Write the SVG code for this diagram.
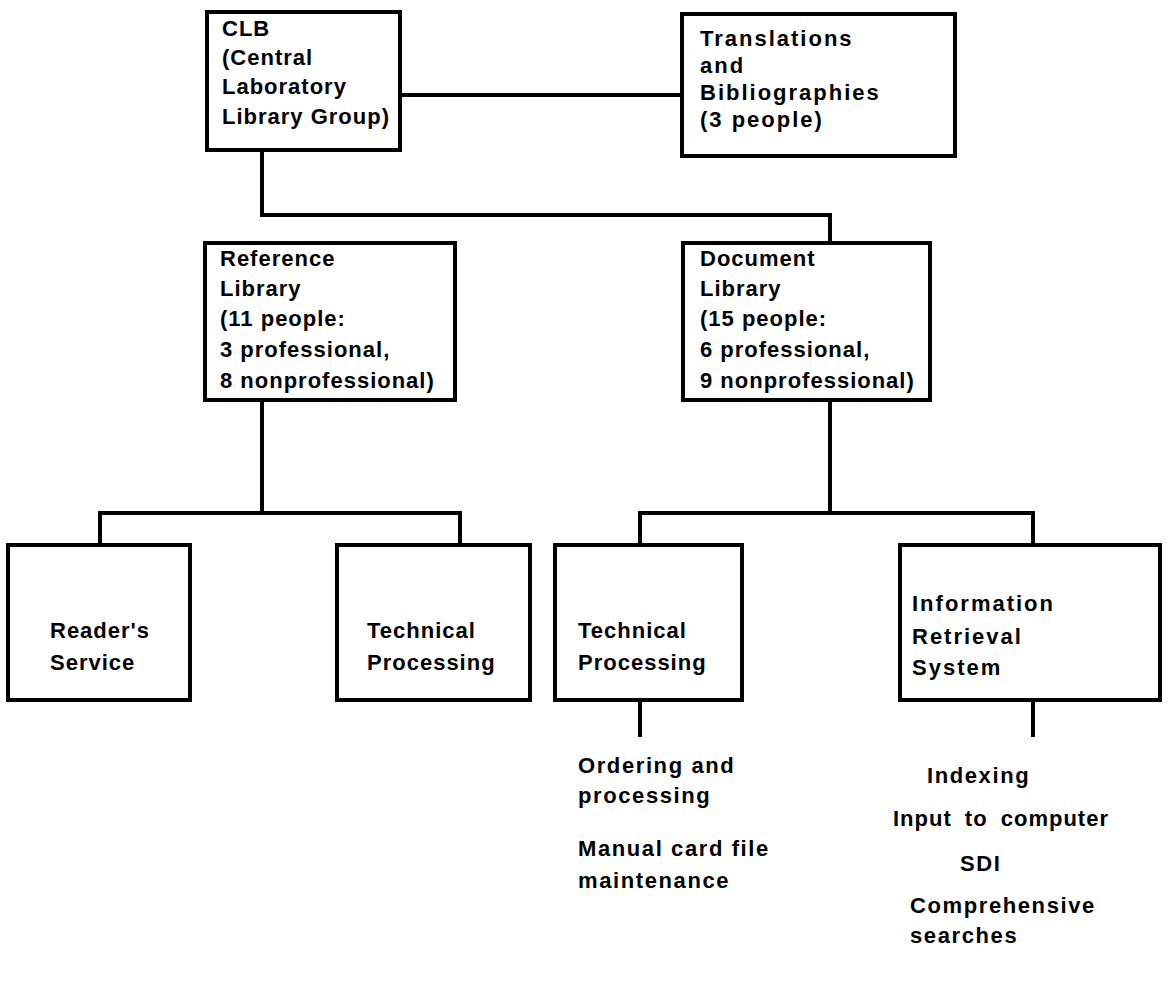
<svg xmlns="http://www.w3.org/2000/svg" width="1174" height="987" viewBox="0 0 1174 987">
<style>
.box{fill:none;stroke:#000;stroke-width:4;stroke-linejoin:miter}
.ln{fill:none;stroke:#000;stroke-width:4;stroke-linecap:square}
text{font-family:"Liberation Sans","DejaVu Sans",sans-serif;font-size:22px;font-weight:bold;fill:#000;letter-spacing:1px}
.wide{letter-spacing:2px}
.task{letter-spacing:1.6px}
</style>
<rect width="1174" height="987" fill="#fff"/>
<g id="connectors">
<path class="ln" d="M400 95 H682"/>
<path class="ln" d="M262 150 V215 H830 V243"/>
<path class="ln" d="M262 400 V513"/>
<path class="ln" d="M100 545 V513 H460 V545"/>
<path class="ln" d="M830 400 V513"/>
<path class="ln" d="M640 545 V513 H1033 V545"/>
<path class="ln" d="M640 700 V735"/>
<path class="ln" d="M1033 700 V735"/>
</g>
<g id="clb"><rect class="box" x="207" y="12" width="193" height="138"/>
<text x="222" y="36">CLB</text><text x="222" y="65">(Central</text><text x="222" y="94">Laboratory</text><text x="222" y="124">Library Group)</text></g>
<g id="translations"><rect class="box" x="682" y="14" width="273" height="142"/>
<text class="wide" x="700" y="46">Translations</text><text class="wide" x="700" y="73">and</text><text class="wide" x="700" y="100">Bibliographies</text><text class="wide" x="700" y="127">(3 people)</text></g>
<g id="reference"><rect class="box" x="205" y="243" width="250" height="157"/>
<text x="220" y="266">Reference</text><text x="220" y="296">Library</text><text x="220" y="326">(11 people:</text><text x="220" y="357">3 professional,</text><text x="220" y="388">8 nonprofessional)</text></g>
<g id="document"><rect class="box" x="683" y="243" width="247" height="157"/>
<text x="700" y="266">Document</text><text x="700" y="296">Library</text><text x="700" y="326">(15 people:</text><text x="700" y="357">6 professional,</text><text x="700" y="388">9 nonprofessional)</text></g>
<g id="readers"><rect class="box" x="8" y="545" width="182" height="155"/>
<text x="50" y="638">Reader's</text><text x="50" y="670">Service</text></g>
<g id="tech-ref"><rect class="box" x="337" y="545" width="193" height="155"/>
<text x="367" y="638">Technical</text><text x="367" y="670">Processing</text></g>
<g id="tech-doc"><rect class="box" x="555" y="545" width="187" height="155"/>
<text x="578" y="638">Technical</text><text x="578" y="670">Processing</text></g>
<g id="irs"><rect class="box" x="900" y="545" width="260" height="155"/>
<text class="wide" x="912" y="611">Information</text><text class="wide" x="912" y="644">Retrieval</text><text class="wide" x="912" y="675">System</text></g>
<g id="tech-doc-tasks">
<text class="task" x="578" y="773">Ordering and</text><text class="task" x="578" y="803">processing</text>
<text class="task" x="578" y="856">Manual card file</text><text class="task" x="578" y="888">maintenance</text></g>
<g id="irs-tasks">
<text class="task" x="927" y="783">Indexing</text><text x="893" y="826" letter-spacing="2" word-spacing="6">Input to computer</text><text class="task" x="960" y="871">SDI</text>
<text class="task" x="910" y="913">Comprehensive</text><text class="task" x="910" y="943">searches</text></g>
</svg>
